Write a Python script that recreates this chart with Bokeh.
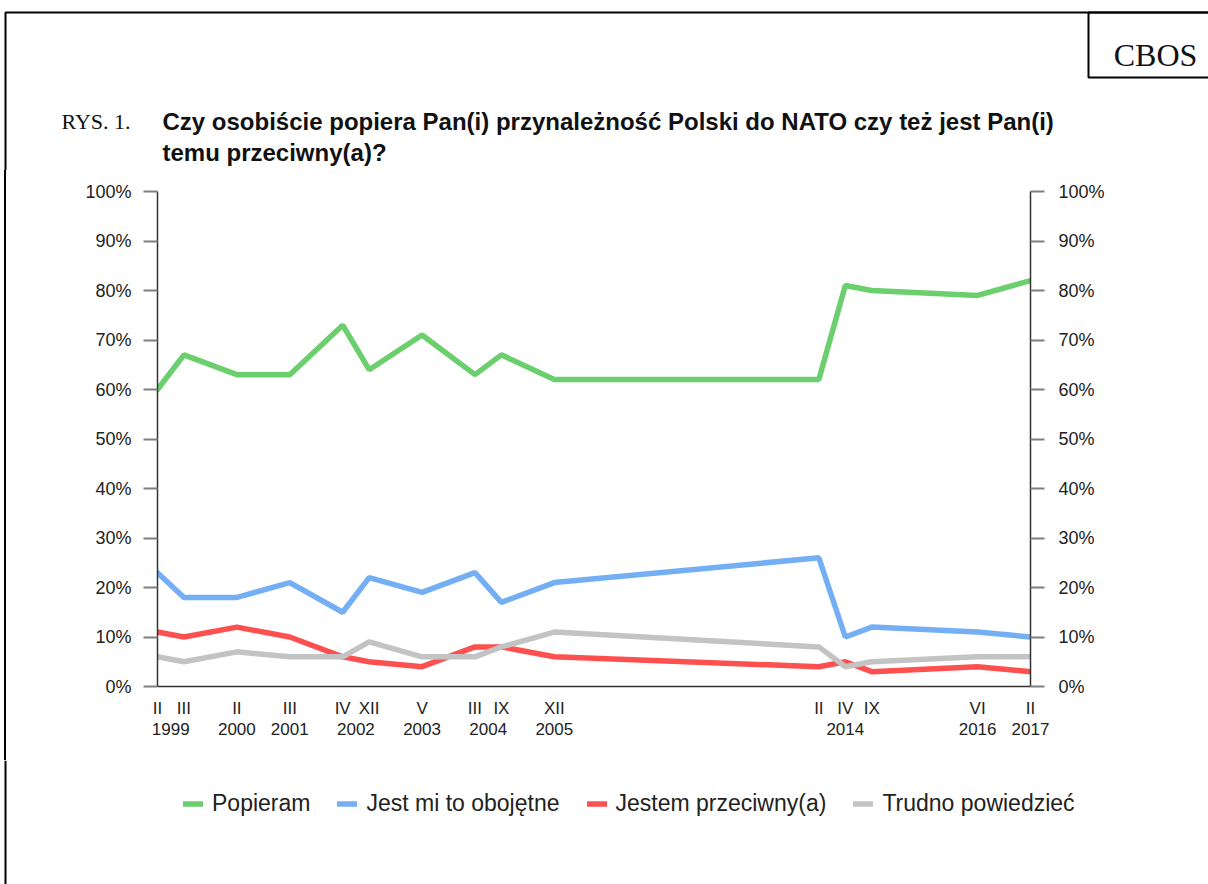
from bokeh.plotting import figure
from bokeh.layouts import column, row
from bokeh.models import (Range1d, LinearAxis, FixedTicker, Label, Legend, LegendItem,
                          BoxAnnotation, Span, PrintfTickFormatter, Div)
from bokeh.embed import file_html
from bokeh.resources import INLINE

# ---- data ----
slots = [0, 1, 3, 5, 7, 8, 10, 12, 13, 15, 25, 26, 27, 31, 33]
months = ["II", "III", "II", "III", "IV", "XII", "V", "III", "IX", "XII", "II", "IV", "IX", "VI", "II"]
year_slots = [0.5, 3, 5, 7.5, 10, 12.5, 15, 26, 31, 33]
years = ["1999", "2000", "2001", "2002", "2003", "2004", "2005", "2014", "2016", "2017"]

popieram = [60, 67, 63, 63, 73, 64, 71, 63, 67, 62, 62, 81, 80, 79, 82]
obojetne = [23, 18, 18, 21, 15, 22, 19, 23, 17, 21, 26, 10, 12, 11, 10]
przeciwny = [11, 10, 12, 10, 6, 5, 4, 8, 8, 6, 4, 5, 3, 4, 3]
trudno = [6, 5, 7, 6, 6, 9, 6, 6, 8, 11, 8, 4, 5, 6, 6]

series_names = ["Popieram", "Jest mi to obojętne", "Jestem przeciwny(a)", "Trudno powiedzieć"]
series_values = [popieram, obojetne, przeciwny, trudno]
series_colors = ["#6BCF6D", "#74AFF5", "#FF5050", "#C3C3C3"]

y_ticks = list(range(0, 101, 10))

title_prefix = "RYS. 1."
title_lines = ["Czy osobiście popiera Pan(i) przynależność Polski do NATO czy też jest Pan(i)",
               "temu przeciwny(a)?"]
source = "CBOS"

SANS = "Liberation Sans"
SERIF = "Liberation Serif"
LW = 5.5
W = 1208
TOP_H, MID_H, BOT_H = 170, 590, 124
LEFT_W = 82


def blank(width, height, xr, yr):
    f = figure(width=width, height=height, output_backend="svg", toolbar_location=None,
               x_range=xr, y_range=yr, x_axis_type=None, y_axis_type=None, min_border=0)
    f.outline_line_color = None
    f.background_fill_color = "white"
    f.border_fill_color = "white"
    return f


# ---- top: titles, page frame, CBOS box ----
top = blank(W, TOP_H, Range1d(0, W), Range1d(TOP_H, 0))
top.add_layout(BoxAnnotation(left=5, right=3000, top=12, bottom=3000,
                             fill_alpha=0, line_color="black", line_alpha=1, line_width=2))
top.add_layout(BoxAnnotation(left=1088, right=3000, top=12, bottom=77,
                             fill_alpha=0, line_color="black", line_alpha=1, line_width=2))
top.add_layout(Label(x=1155, y=54, text=source, text_font=SERIF, text_font_size="32px",
                     text_color="#111111", text_align="center", text_baseline="alphabetic"))
top.add_layout(Label(x=61, y=121, text=title_prefix, text_font=SERIF, text_font_size="22px",
                     text_color="#111111", text_baseline="alphabetic"))
for i, t in enumerate(title_lines):
    top.add_layout(Label(x=162, y=121 + 31 * i, text=t, text_font=SANS,
                         text_font_size="24px", text_font_style="bold",
                         text_color="#111111", text_baseline="alphabetic"))

# ---- middle: left page border strip + chart ----
left = Div(text='<div style="margin-left:4px;width:2px;height:%dpx;background:#000;"></div>' % MID_H,
           width=LEFT_W, height=MID_H, margin=0)

p = figure(width=W - LEFT_W, height=MID_H, output_backend="svg", toolbar_location=None,
           x_range=Range1d(0, 33), y_range=Range1d(0, 100),
           x_axis_type=None, y_axis_type=None,
           min_border_left=75, min_border_right=178,
           min_border_top=21, min_border_bottom=74)
p.outline_line_color = None
p.background_fill_color = "white"
p.border_fill_color = "white"

yl = LinearAxis(ticker=FixedTicker(ticks=y_ticks), formatter=PrintfTickFormatter(format="%d%%"))
yr = LinearAxis(ticker=FixedTicker(ticks=y_ticks), formatter=PrintfTickFormatter(format="%d%%"))
for ax in (yl, yr):
    ax.axis_line_color = "#333333"
    ax.axis_line_width = 1.5
    ax.major_tick_line_color = "#7f7f7f"
    ax.major_tick_line_width = 2
    ax.major_tick_in = 0
    ax.major_tick_out = 14
    ax.minor_tick_line_color = None
    ax.major_label_text_font = SANS
    ax.major_label_text_font_size = "18px"
    ax.major_label_text_color = "#222222"
yl.major_label_standoff = 12
yr.major_label_standoff = 14
p.add_layout(yl, "left")
p.add_layout(yr, "right")

xm = LinearAxis(ticker=FixedTicker(ticks=slots),
                major_label_overrides={s: m for s, m in zip(slots, months)})
xy = LinearAxis(ticker=FixedTicker(ticks=year_slots),
                major_label_overrides={s: y for s, y in zip(year_slots, years)})
for ax in (xm, xy):
    ax.major_tick_in = 0
    ax.major_tick_out = 0
    ax.major_tick_line_color = None
    ax.minor_tick_line_color = None
    ax.major_label_text_font = SANS
    ax.major_label_text_font_size = "17px"
    ax.major_label_text_color = "#222222"
xm.axis_line_color = "#333333"
xm.axis_line_width = 1.5
xm.major_label_standoff = 12
xy.axis_line_color = None
xy.major_label_standoff = 2
p.add_layout(xm, "below")
p.add_layout(xy, "below")

for name, vals, color in zip(series_names, series_values, series_colors):
    p.line(slots, vals, line_color=color, line_width=LW, line_cap="round")

# ---- bottom: legend ----
bot = blank(W, BOT_H, Range1d(0, W), Range1d(0, BOT_H))
bot.add_layout(Span(location=5, dimension="height", line_color="black", line_width=2))
items = []
for name, vals, color in zip(series_names, series_values, series_colors):
    r = bot.line(slots, vals, line_color=color, line_width=LW, line_cap="round", visible=False)
    items.append(LegendItem(label=name, renderers=[r]))
legend = Legend(items=items, orientation="horizontal", location=(183, 67),
                label_text_font=SANS, label_text_font_size="23px", label_text_color="#222222",
                glyph_width=20, glyph_height=23, label_standoff=9, spacing=27,
                padding=0, margin=0, border_line_color=None, background_fill_alpha=0,
                inactive_fill_alpha=0)
bot.add_layout(legend, "center")

layout = column(top, row(left, p, spacing=0), bot, spacing=0)
open("out.html", "w").write(file_html(layout, INLINE))
